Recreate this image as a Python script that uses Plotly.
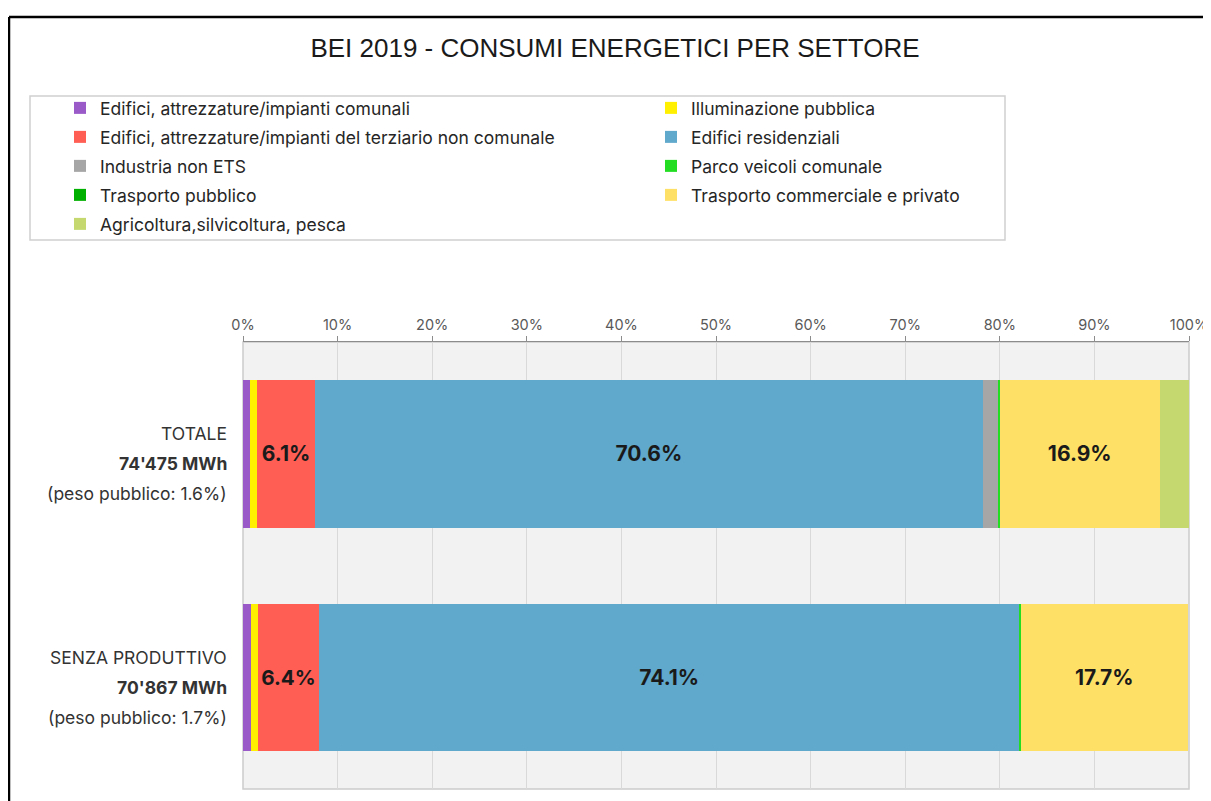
import plotly.graph_objects as go

# Data (percent of total consumption)
categories = ["TOTALE", "SENZA PRODUTTIVO"]
totals_mwh = [74475, 70867]
peso_pubblico = [1.6, 1.7]

sectors = [
    "Edifici, attrezzature/impianti comunali",
    "Illuminazione pubblica",
    "Edifici, attrezzature/impianti del terziario non comunale",
    "Edifici residenziali",
    "Industria non ETS",
    "Parco veicoli comunale",
    "Trasporto pubblico",
    "Trasporto commerciale e privato",
    "Agricoltura,silvicoltura, pesca",
]
shares = [
    [0.7, 0.8],    # comunali
    [0.8, 0.8],    # illuminazione
    [6.1, 6.4],    # terziario
    [70.6, 74.1],  # residenziali
    [1.7, 0.0],    # industria
    [0.1, 0.1],    # parco veicoli
    [0.0, 0.0],    # trasporto pubblico
    [16.9, 17.7],  # trasporto commerciale e privato
    [3.1, 0.0],    # agricoltura
]
colors = ["#9A5BC8", "#FFF000", "#FF5E55", "#60A8CC", "#A6A6A6",
          "#22DD22", "#00B000", "#FFE066", "#C4D86F"]

# legend rows (two items per row)
legend_ids = ["legend", "legend", "legend2", "legend2", "legend3",
              "legend3", "legend4", "legend4", "legend5"]

FONT = "Inter, Liberation Sans, sans-serif"

# figure size and plot area (pixels inside the figure; page adds an 8px body margin)
W, H = 1211, 801
L, R, T, B = 235, 30, 334, 20
pw, ph = W - L - R, H - T - B


def px_x(p):
    return (p - L) / pw


def px_y(p):
    return (H - B - p) / ph


fig = go.Figure()

for i, name in enumerate(sectors):
    vals = shares[i]
    labels = [f"{v:.1f}%" if v >= 5 else "" for v in vals]
    fig.add_trace(go.Bar(
        y=categories,
        x=vals,
        name=name,
        orientation="h",
        marker=dict(color=colors[i], line=dict(width=0)),
        text=labels,
        textposition="inside",
        insidetextanchor="middle",
        textangle=0,
        textfont=dict(family=FONT, size=21, color="#1a1a1a", weight="bold"),
        legend=legend_ids[i],
        legendwidth=546 if i % 2 == 0 else None,
        hovertemplate="%{x:.1f}%<extra>" + name + "</extra>",
    ))

# three-line category labels on the left
annotations = []
for j, cat in enumerate(categories):
    lines = [
        (cat, 20, "normal"),
        (f"{totals_mwh[j]:,} MWh".replace(",", "'"), -10, "bold"),
        (f"(peso pubblico: {peso_pubblico[j]:.1f}%)", -40, "normal"),
    ]
    for txt, ys, wt in lines:
        annotations.append(dict(
            x=0, xref="paper", y=cat, yref="y", xanchor="right", yanchor="middle",
            xshift=-14, yshift=ys, text=txt, showarrow=False,
            font=dict(family=FONT, size=17.5, color="#333333", weight=wt),
        ))

legend_rows_px = [100, 129, 158, 187, 216]
legend_layout = {}
for k, py in enumerate(legend_rows_px):
    key = "legend" if k == 0 else f"legend{k + 1}"
    legend_layout[key] = dict(
        orientation="h", x=px_x(52), xanchor="left", y=px_y(py), yanchor="middle",
        bgcolor="rgba(0,0,0,0)", borderwidth=0, traceorder="normal",
        font=dict(family=FONT, size=17.5, color="#262626"),
    )

fig.update_layout(
    width=W, height=H,
    margin=dict(l=L, r=R, t=T, b=B, autoexpand=False),
    paper_bgcolor="white",
    plot_bgcolor="#F2F2F2",
    barmode="stack",
    bargap=0.34,
    title=dict(
        text="BEI 2019 - CONSUMI ENERGETICI PER SETTORE",
        x=607 / W, xanchor="center", y=1 - 40 / H, yanchor="middle",
        font=dict(family="Liberation Sans Narrow, Liberation Sans", size=26, color="#1a1a1a"),
    ),
    xaxis=dict(
        side="top", range=[0, 100], dtick=10, ticksuffix="%",
        showgrid=True, gridcolor="#D9D9D9", gridwidth=1, zeroline=False,
        showline=True, linecolor="#8C8C8C", linewidth=1,
        ticks="outside", ticklen=5, tickcolor="#8C8C8C",
        tickfont=dict(family=FONT, size=14.5, color="#595959"),
        fixedrange=True,
    ),
    yaxis=dict(
        range=[1.5, -0.5], showticklabels=False, showgrid=False,
        zeroline=False, fixedrange=True,
    ),
    annotations=annotations,
    showlegend=True,
    shapes=[
        # outer black frame
        dict(type="line", xref="paper", yref="paper", x0=px_x(1), x1=px_x(W + 5),
             y0=px_y(9), y1=px_y(9), line=dict(color="black", width=2.5)),
        dict(type="line", xref="paper", yref="paper", x0=px_x(1), x1=px_x(1),
             y0=px_y(9), y1=px_y(H + 5), line=dict(color="black", width=2.5)),
        # legend box
        dict(type="rect", xref="paper", yref="paper", x0=px_x(22), x1=px_x(997),
             y0=px_y(232), y1=px_y(88), line=dict(color="#D0D0D0", width=1.5)),
        # plot area border
        dict(type="rect", xref="paper", yref="paper", x0=0, x1=1, y0=0, y1=1,
             line=dict(color="#CCCCCC", width=1.5), layer="below"),
    ],
    **legend_layout,
)

fig.write_html("out.html")
